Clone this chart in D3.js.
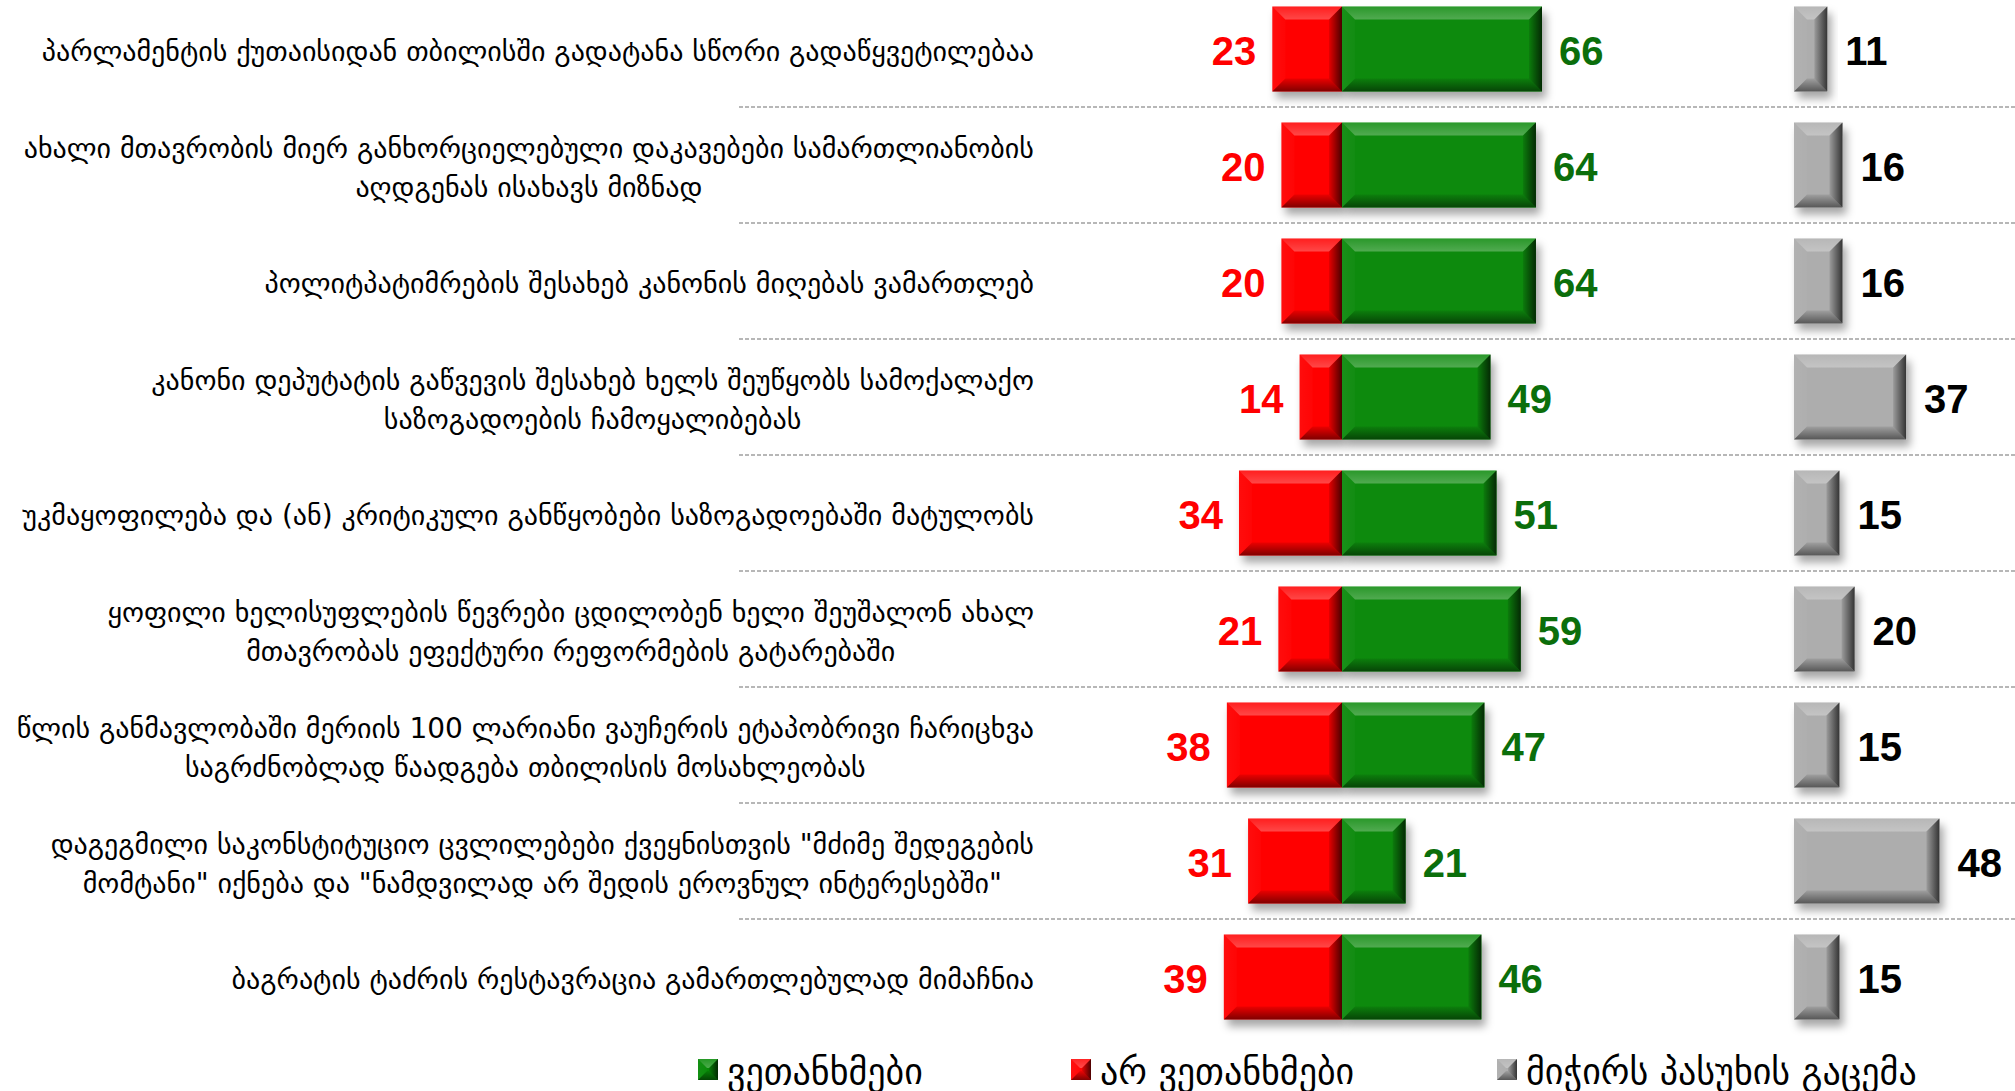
<!DOCTYPE html>
<html>
<head>
<meta charset="utf-8">
<script src="https://cdn.jsdelivr.net/npm/d3@7"></script>
<style>
  html, body { margin: 0; padding: 0; background: #fff; }
  svg { display: block; }
  .label { font-family: "DejaVu Sans", sans-serif; font-size: 28px; fill: #000; }
  .value { font-family: "Liberation Sans Narrow", "Liberation Sans", sans-serif; font-weight: bold; font-size: 40px; }
  .legend { font-family: "DejaVu Sans", sans-serif; font-size: 36px; fill: #000; }
</style>
</head>
<body>
<div id="chart"></div>
<script>
// statements, one line per entry ("\n" = line break)
const categories = [
  "პარლამენტის ქუთაისიდან თბილისში გადატანა სწორი გადაწყვეტილებაა",
  "ახალი მთავრობის მიერ განხორციელებული დაკავებები სამართლიანობის\nაღდგენას ისახავს მიზნად",
  "პოლიტპატიმრების შესახებ კანონის მიღებას ვამართლებ",
  "კანონი დეპუტატის გაწვევის შესახებ ხელს შეუწყობს სამოქალაქო\nსაზოგადოების ჩამოყალიბებას",
  "უკმაყოფილება და (ან) კრიტიკული განწყობები საზოგადოებაში მატულობს",
  "ყოფილი ხელისუფლების წევრები ცდილობენ ხელი შეუშალონ ახალ\nმთავრობას ეფექტური რეფორმების გატარებაში",
  "წლის განმავლობაში მერიის 100 ლარიანი ვაუჩერის ეტაპობრივი ჩარიცხვა\nსაგრძნობლად წაადგება თბილისის მოსახლეობას",
  "დაგეგმილი საკონსტიტუციო ცვლილებები ქვეყნისთვის \"მძიმე შედეგების\nმომტანი\" იქნება და \"ნამდვილად არ შედის ეროვნულ ინტერესებში\"",
  "ბაგრატის ტაძრის რესტავრაცია გამართლებულად მიმაჩნია"
];
const agree    = [66, 64, 64, 49, 51, 59, 47, 21, 46];
const disagree = [23, 20, 20, 14, 34, 21, 38, 31, 39];
const noAnswer = [11, 16, 16, 37, 15, 20, 15, 48, 15];
const legendLabels = ["ვეთანხმები", "არ ვეთანხმები", "მიჭირს პასუხის გაცემა"];

const width = 2015, height = 1091;
const colors = {
  agree: "#078a07",
  disagree: "#ff0505",
  noAnswer: "#adadad",
  agreeText: "#0b6e0b",
  disagreeText: "#ff0000",
  noAnswerText: "#000"
};

const svg = d3.select("#chart").append("svg")
  .attr("width", width)
  .attr("height", height);

// Defs: drop shadow + bevel gradients
const defs = svg.append("defs");
const shadow = defs.append("filter").attr("id", "shadow")
  .attr("x", "-20%").attr("y", "-20%").attr("width", "150%").attr("height", "150%");
shadow.append("feDropShadow")
  .attr("dx", 4).attr("dy", 7).attr("stdDeviation", 4)
  .attr("flood-color", "#000").attr("flood-opacity", 0.35);

function grad(id, x2, y2, stops) {
  const g = defs.append("linearGradient").attr("id", id)
    .attr("x1", 0).attr("y1", 0).attr("x2", x2).attr("y2", y2);
  stops.forEach(s => g.append("stop").attr("offset", s[0]).attr("stop-color", s[1]).attr("stop-opacity", s[2]));
}
grad("bevTop", 0, 1, [[0, "#fff", 0.12], [1, "#fff", 0.28]]);
grad("bevBottom", 0, 1, [[0, "#000", 0.08], [1, "#000", 0.5]]);
grad("bevRight", 1, 0, [[0, "#000", 0.1], [1, "#000", 0.7]]);
grad("bevLeft", 1, 0, [[0, "#fff", 0.05], [1, "#fff", 0.02]]);

// Scales
const y = d3.scaleBand()
  .domain(d3.range(categories.length))
  .range([-9, 1035])
  .paddingInner(0.267)
  .paddingOuter(0.1335);
const step = y.step();
const divider = 1342;
const xAgree = d3.scaleLinear().domain([0, 100]).range([divider, divider + 303]);
const xDis = d3.scaleLinear().domain([0, 100]).range([divider, divider - 303]);
const xNo = d3.scaleLinear().domain([0, 100]).range([1794, 1794 + 303]);

// Beveled bar
function bevelBar(g, x0, x1, y0, y1, fill, b) {
  const grp = g.append("g");
  const w = x1 - x0, h = y1 - y0;
  b = Math.min(b, w / 2, h / 2);
  grp.append("rect")
    .attr("x", x0).attr("y", y0).attr("width", w).attr("height", h)
    .attr("fill", fill)
    .attr("filter", "url(#shadow)");
  const pts = p => p.map(d => d.join(",")).join(" ");
  grp.append("polygon").attr("points", pts([[x0, y0], [x1, y0], [x1 - b, y0 + b], [x0 + b, y0 + b]])).attr("fill", "url(#bevTop)");
  grp.append("polygon").attr("points", pts([[x0, y1], [x1, y1], [x1 - b, y1 - b], [x0 + b, y1 - b]])).attr("fill", "url(#bevBottom)");
  grp.append("polygon").attr("points", pts([[x1, y0], [x1 - b, y0 + b], [x1 - b, y1 - b], [x1, y1]])).attr("fill", "url(#bevRight)");
  grp.append("polygon").attr("points", pts([[x0, y0], [x0 + b, y0 + b], [x0 + b, y1 - b], [x0, y1]])).attr("fill", "url(#bevLeft)");
  return grp;
}

// Dashed separators
svg.append("g").selectAll("line")
  .data(d3.range(categories.length - 1))
  .join("line")
    .attr("x1", 739).attr("x2", width)
    .attr("y1", i => y(i) + y.bandwidth() / 2 + step / 2)
    .attr("y2", i => y(i) + y.bandwidth() / 2 + step / 2)
    .attr("stroke", "#a0a0a0")
    .attr("stroke-width", 1.5)
    .attr("stroke-dasharray", "4,2");

// Bars
const bars = svg.append("g");
categories.forEach((c, i) => {
  const y0 = y(i), y1 = y(i) + y.bandwidth();
  bevelBar(bars, xDis(disagree[i]), xDis(0), y0, y1, colors.disagree, 13);
  bevelBar(bars, xAgree(0), xAgree(agree[i]), y0, y1, colors.agree, 13);
  bevelBar(bars, xNo(0), xNo(noAnswer[i]), y0, y1, colors.noAnswer, 13);
});

// Value labels
const values = svg.append("g");
categories.forEach((c, i) => {
  const cy = y(i) + y.bandwidth() / 2 + 2;
  values.append("text").attr("class", "value")
    .attr("x", xDis(disagree[i]) - 16).attr("y", cy)
    .attr("text-anchor", "end").attr("dominant-baseline", "central")
    .attr("fill", colors.disagreeText).text(disagree[i]);
  values.append("text").attr("class", "value")
    .attr("x", xAgree(agree[i]) + 17).attr("y", cy)
    .attr("text-anchor", "start").attr("dominant-baseline", "central")
    .attr("fill", colors.agreeText).text(agree[i]);
  values.append("text").attr("class", "value")
    .attr("x", xNo(noAnswer[i]) + 18).attr("y", cy)
    .attr("text-anchor", "start").attr("dominant-baseline", "central")
    .attr("fill", colors.noAnswerText).text(noAnswer[i]);
});

// Category labels: block right-aligned, lines centered within block
const labelRight = 1034, lineHeight = 39;
const labels = svg.append("g");
categories.forEach((c, i) => {
  const lines = c.split("\n");
  const cy = y(i) + y.bandwidth() / 2 + 2;
  const t = labels.append("text").attr("class", "label")
    .attr("text-anchor", "middle").attr("dominant-baseline", "central");
  const spans = lines.map((ln, k) => t.append("tspan")
    .attr("y", cy + (k - (lines.length - 1) / 2) * lineHeight)
    .text(ln));
  const maxW = d3.max(spans, s => s.node().getComputedTextLength());
  spans.forEach(s => s.attr("x", labelRight - maxW / 2));
});

// Legend
const legendItems = [
  { label: legendLabels[0], color: colors.agree, x: 698 },
  { label: legendLabels[1], color: colors.disagree, x: 1071 },
  { label: legendLabels[2], color: colors.noAnswer, x: 1497 }
];
const legend = svg.append("g");
legendItems.forEach(d => {
  bevelBar(legend, d.x, d.x + 20, 1059, 1080, d.color, 9).select("rect").attr("filter", null);
  legend.append("text").attr("class", "legend")
    .attr("x", d.x + 29).attr("y", 1071)
    .attr("dominant-baseline", "central")
    .text(d.label);
});
</script>
</body>
</html>
